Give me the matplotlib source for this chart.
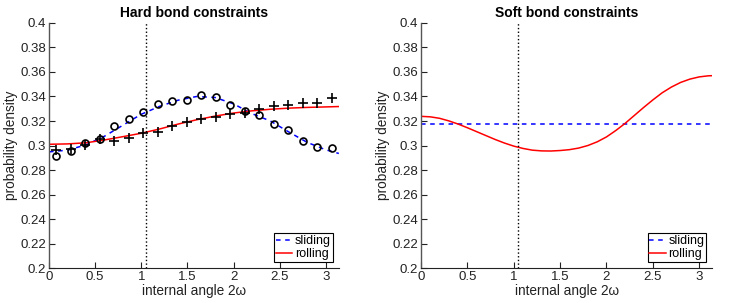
import numpy as np
import matplotlib.pyplot as plt
from matplotlib.ticker import FuncFormatter

plt.rcParams['font.family'] = ['Liberation Sans', 'DejaVu Sans']

# ---- datos ----
# histograma simulado (centros de 20 bins en [0, pi])
x_bins = [0.079, 0.236, 0.393, 0.550, 0.707, 0.864, 1.021, 1.178, 1.335, 1.492,
          1.649, 1.806, 1.963, 2.121, 2.278, 2.435, 2.592, 2.749, 2.906, 3.063]
sim_sliding = [0.2918, 0.2958, 0.3019, 0.3054, 0.3160, 0.3215, 0.3277, 0.3340, 0.3365, 0.3375,
               0.3415, 0.3392, 0.3334, 0.3283, 0.3245, 0.3174, 0.3130, 0.3035, 0.2991, 0.2978]
sim_rolling = [0.2964, 0.2972, 0.3005, 0.3051, 0.3038, 0.3062, 0.3103, 0.3111, 0.3160, 0.3191,
               0.3213, 0.3236, 0.3260, 0.3266, 0.3302, 0.3324, 0.3330, 0.3343, 0.3348, 0.3387]

# curvas teoricas, restricciones rigidas (muestreadas cada 0.2)
x_curve = [0.0, 0.2, 0.4, 0.6, 0.8, 1.0, 1.2, 1.4, 1.6, 1.8, 2.0, 2.2, 2.4, 2.6, 2.8, 3.0, np.pi]
hard_sliding = [0.2948, 0.2962, 0.3005, 0.3075, 0.3165, 0.3255, 0.3320, 0.3370, 0.3400, 0.3392,
                0.3340, 0.3260, 0.3200, 0.3110, 0.3025, 0.2965, 0.2935]
hard_rolling = [0.3010, 0.3013, 0.3022, 0.3045, 0.3072, 0.3100, 0.3135, 0.3175, 0.3210, 0.3240,
                0.3265, 0.3283, 0.3296, 0.3305, 0.3311, 0.3315, 0.3318]

# restricciones blandas (muestreadas cada 0.1)
x_soft = [0.0, 0.1, 0.2, 0.3, 0.4, 0.5, 0.6, 0.7, 0.8, 0.9, 1.0, 1.1, 1.2, 1.3, 1.4, 1.5, 1.6,
          1.7, 1.8, 1.9, 2.0, 2.1, 2.2, 2.3, 2.4, 2.5, 2.6, 2.7, 2.8, 2.9, 3.0, 3.1, np.pi]
soft_rolling = [0.3238, 0.3234, 0.3222, 0.3201, 0.3175, 0.3145, 0.3113, 0.3081, 0.3049, 0.3020,
                0.2995, 0.2976, 0.2962, 0.2956, 0.2955, 0.2959, 0.2966, 0.2979, 0.3000, 0.3030,
                0.3070, 0.3122, 0.3180, 0.3245, 0.3310, 0.3372, 0.3430, 0.3477, 0.3515, 0.3542,
                0.3560, 0.3569, 0.3570]
soft_sliding = [0.3176, 0.3176]
x_flat = [0.0, np.pi]

angle_ref = np.pi / 3

fig = plt.figure(figsize=(7.47, 3.03), dpi=100)
ax1 = fig.add_axes([0.0656, 0.1155, 0.388, 0.8086])
ax2 = fig.add_axes([0.5636, 0.1155, 0.390, 0.8086])


def style_axes(ax, title):
    ax.set_xlim(0, np.pi)
    ax.set_ylim(0.2, 0.4)
    ax.set_xticks([0, 0.5, 1, 1.5, 2, 2.5, 3])
    ax.set_yticks(np.arange(0.2, 0.4001, 0.02))
    ax.xaxis.set_major_formatter(FuncFormatter(lambda v, p: '%g' % round(v, 2)))
    ax.yaxis.set_major_formatter(FuncFormatter(lambda v, p: '%g' % round(v, 2)))
    ax.tick_params(direction='in', length=4, width=0.8, labelsize=9.5, colors='#222222', pad=2)
    ax.spines['top'].set_visible(False)
    ax.spines['right'].set_visible(False)
    ax.spines['left'].set_color('#555555')
    ax.spines['left'].set_linewidth(1.0)
    ax.spines['bottom'].set_color('#222222')
    ax.set_title(title, fontsize=10, fontweight='bold', pad=4)
    ax.set_xlabel('internal angle 2\u03c9', fontsize=9.8, labelpad=1, color='#222222')
    ax.set_ylabel('probability density', fontsize=9.8, labelpad=2, color='#222222')
    ax.axvline(angle_ref, color='black', linestyle=':', linewidth=1.0)
    leg = ax.legend(loc='lower right', fontsize=9, handlelength=1.3, handletextpad=0.2,
                    borderpad=0.15, labelspacing=0.05, fancybox=False, framealpha=1,
                    borderaxespad=0.5)
    leg.get_frame().set_edgecolor('black')
    leg.get_frame().set_linewidth(0.8)


# ---- panel izquierdo: restricciones rigidas ----
ax1.plot(x_curve, hard_sliding, color='blue', linestyle='--', linewidth=1.1,
         dashes=(3, 3), label='sliding')
ax1.plot(x_curve, hard_rolling, color='red', linestyle='-', linewidth=1.1, label='rolling')
ax1.plot(x_bins, sim_sliding, linestyle='none', marker='o', markersize=5,
         markerfacecolor='none', markeredgecolor='black', markeredgewidth=1.2)
ax1.plot(x_bins, sim_rolling, linestyle='none', marker='+', markersize=7,
         color='black', markeredgewidth=1.2)
style_axes(ax1, 'Hard bond constraints')

# ---- panel derecho: restricciones blandas ----
ax2.plot(x_flat, soft_sliding, color='blue', linestyle='--', linewidth=1.1,
         dashes=(3, 3), label='sliding')
ax2.plot(x_soft, soft_rolling, color='red', linestyle='-', linewidth=1.1, label='rolling')
style_axes(ax2, 'Soft bond constraints')

fig.savefig('out.png', dpi=100)
